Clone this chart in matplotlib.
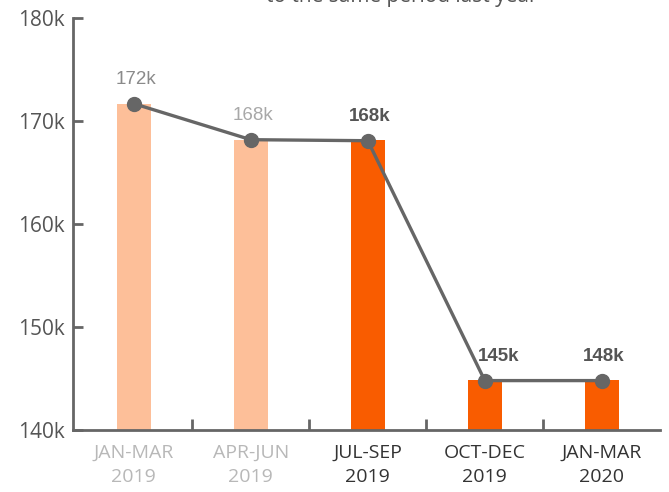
import numpy as np
import matplotlib.pyplot as plt

# quarterly values (thousands)
quarters = ['JAN-MAR\n2019', 'APR-JUN\n2019', 'JUL-SEP\n2019', 'OCT-DEC\n2019', 'JAN-MAR\n2020']
bar_values = [171.7, 168.2, 168.2, 144.9, 144.9]
line_values = [171.7, 168.2, 168.1, 144.8, 144.8]
point_labels = ['172k', '168k', '168k', '145k', '148k']
y_ticks = [140, 150, 160, 170, 180]

bar_colors = ['#fdbf99', '#fdbf99', '#f95c00', '#f95c00', '#f95c00']
tick_colors = ['#b8b8b8', '#b8b8b8', '#333333', '#333333', '#333333']
label_colors = ['#8a8a8a', '#a8a8a8', '#555555', '#555555', '#555555']
label_weights = ['normal', 'normal', 'bold', 'bold', 'bold']

plt.rcParams['font.family'] = ['Open Sans', 'DejaVu Sans']

fig = plt.figure(figsize=(6.69, 4.92), dpi=100)
ax = fig.add_axes([0.109, 0.126, 0.878, 0.837])

x = np.arange(len(quarters))
ax.bar(x, [v - 140 for v in bar_values], bottom=140, width=0.29, color=bar_colors, zorder=1)
ax.plot(x, line_values, color='#666666', lw=2.4, marker='o', markersize=10, zorder=3)

for i, (xv, yv) in enumerate(zip(x, line_values)):
    dx = 0.12 if i == 3 else 0.02
    ax.text(xv + dx, yv + 1.5, point_labels[i], ha='center', va='bottom', fontsize=13.5,
            color=label_colors[i], fontweight=label_weights[i], family='Liberation Sans')

ax.set_xlim(-0.52, 4.5)
ax.set_ylim(140, 180)
ax.set_yticks(y_ticks)
ax.set_yticklabels([f'{t}k' for t in y_ticks], fontsize=15, color='#555555')
ax.set_xticks(x)
ax.set_xticklabels(quarters, fontsize=14, linespacing=1.45)
for lbl, c in zip(ax.get_xticklabels(), tick_colors):
    lbl.set_color(c)
ax.tick_params(axis='x', length=0, pad=10)
ax.set_xticks(x[:-1] + 0.5, minor=True)
ax.tick_params(axis='x', which='minor', direction='in', length=8, width=2, color='#666666')
ax.tick_params(axis='y', direction='in', length=7, width=2, color='#666666', pad=6)

for s in ['top', 'right']:
    ax.spines[s].set_visible(False)
for s in ['left', 'bottom']:
    ax.spines[s].set_color('#666666')
    ax.spines[s].set_linewidth(2)

fig.text(0.6, 0.985, 'to the same period last year', ha='center', va='bottom',
         fontsize=15, color='#555555')

fig.savefig('out.png', dpi=100)
